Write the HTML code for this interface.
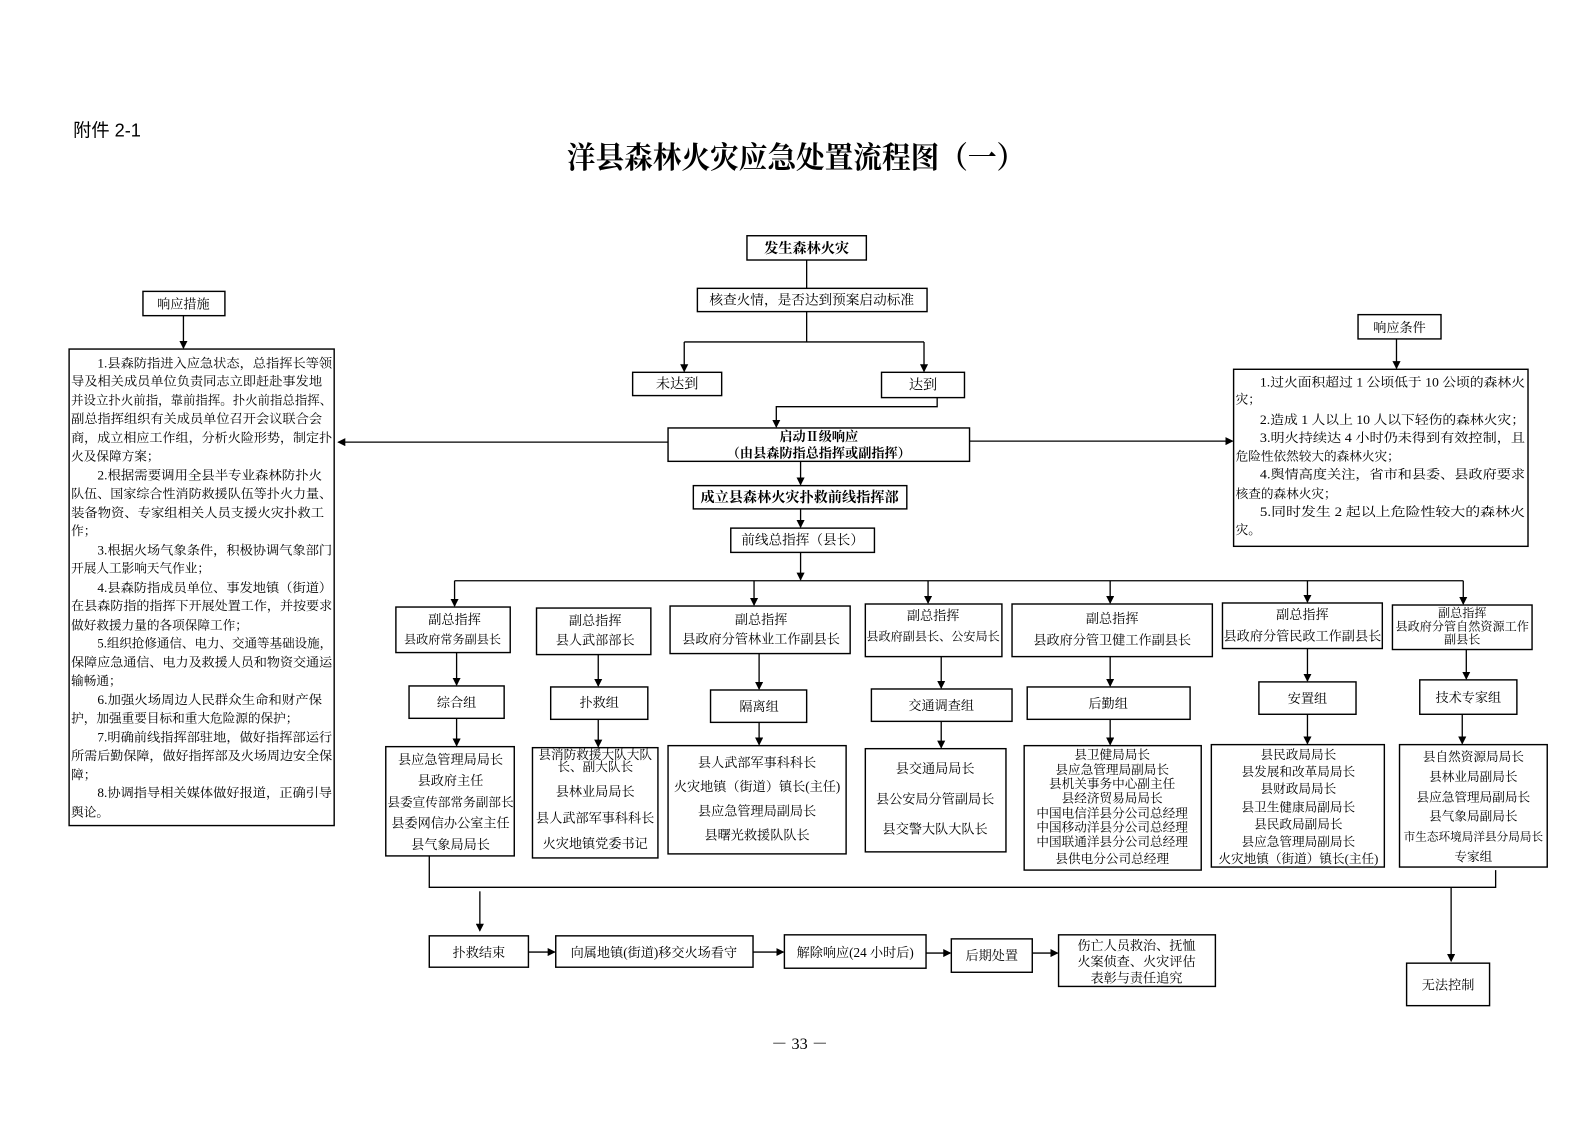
<!DOCTYPE html>
<html><head><meta charset="utf-8"><style>
html,body{margin:0;padding:0;background:#fff;}
svg{display:block;}
text{font-family:"Liberation Serif","Noto Serif CJK SC",serif;fill:#000;}
</style></head><body>
<svg width="1587" height="1122" viewBox="0 0 1568 1109" xmlns="http://www.w3.org/2000/svg">
<defs><marker id="a" markerWidth="8" markerHeight="8" refX="7" refY="4" orient="auto" markerUnits="userSpaceOnUse"><path d="M0,0 L8,4 L0,8 z" fill="#000"/></marker></defs>
<rect width="1568" height="1109" fill="#fff"/>
<text x="72" y="135" font-size="18" style="font-family:'Liberation Sans','Noto Sans CJK SC',sans-serif">附件 2-1</text>
<text x="560" y="166" font-size="30" font-weight="bold" textLength="453" lengthAdjust="spacingAndGlyphs">洋县森林火灾应急处置流程图（一）</text>

<g fill="none" stroke="#000" stroke-width="1.4">
<rect x="738" y="233" width="118" height="24"/>
<rect x="689" y="285" width="227" height="23"/>
<rect x="625" y="368" width="88" height="23"/>
<rect x="871" y="368" width="82" height="25"/>
<rect x="660" y="423" width="298" height="33"/>
<rect x="685" y="480" width="211" height="23"/>
<rect x="722" y="522" width="142" height="24"/>
<rect x="141" y="288" width="81" height="24"/>
<rect x="68" y="345" width="262" height="471"/>
<rect x="1342" y="311" width="82" height="24"/>
<rect x="1219" y="365" width="291" height="175"/>
<rect x="391" y="600" width="113" height="45"/>
<rect x="530" y="601" width="113" height="46"/>
<rect x="662" y="599" width="178" height="47"/>
<rect x="855" y="597" width="135" height="52"/>
<rect x="1000" y="597" width="198" height="52"/>
<rect x="1208" y="596" width="158" height="45"/>
<rect x="1376" y="598" width="138" height="44"/>
<rect x="404" y="678" width="94" height="32"/>
<rect x="544" y="679" width="96" height="32"/>
<rect x="702" y="682" width="95" height="32"/>
<rect x="861" y="681" width="139" height="32"/>
<rect x="1015" y="679" width="161" height="32"/>
<rect x="1244" y="674" width="96" height="32"/>
<rect x="1403" y="672" width="96" height="34"/>
<rect x="381" y="738" width="127" height="108"/>
<rect x="526" y="739" width="124" height="109"/>
<rect x="660" y="737" width="176" height="107"/>
<rect x="855" y="740" width="139" height="102"/>
<rect x="1012" y="737" width="175" height="123"/>
<rect x="1197" y="736" width="171" height="121"/>
<rect x="1383" y="736" width="146" height="121"/>
<rect x="424" y="925" width="98" height="31"/>
<rect x="549" y="925" width="195" height="31"/>
<rect x="775" y="924" width="140" height="33"/>
<rect x="940" y="928" width="80" height="33"/>
<rect x="1046" y="924" width="155" height="51"/>
<rect x="1390" y="952" width="82" height="42"/>
</g>

<g fill="none" stroke="#000" stroke-width="1.3">
<path d="M797 257V285"/>
<path d="M797 308V338M676 338H913"/>
<path d="M676 338V367" marker-end="url(#a)"/>
<path d="M913 338V367" marker-end="url(#a)"/>
<path d="M926 393V402H767V422" marker-end="url(#a)"/>
<path d="M660 437H334" marker-end="url(#a)"/>
<path d="M958 436H1218" marker-end="url(#a)"/>
<path d="M791 456V479" marker-end="url(#a)"/>
<path d="M791 503V521" marker-end="url(#a)"/>
<path d="M791 546V573" marker-end="url(#a)"/>
<path d="M449 574H1446"/>
<path d="M449 574V599" marker-end="url(#a)"/>
<path d="M745 574V598" marker-end="url(#a)"/>
<path d="M917 574V596" marker-end="url(#a)"/>
<path d="M1097 574V596" marker-end="url(#a)"/>
<path d="M1292 574V595" marker-end="url(#a)"/>
<path d="M1446 574V597" marker-end="url(#a)"/>
<path d="M181 312V344" marker-end="url(#a)"/>
<path d="M1380 335V364" marker-end="url(#a)"/>
<path d="M451 645V677" marker-end="url(#a)"/>
<path d="M591 647V678" marker-end="url(#a)"/>
<path d="M750 646V681" marker-end="url(#a)"/>
<path d="M930 649V680" marker-end="url(#a)"/>
<path d="M1097 649V678" marker-end="url(#a)"/>
<path d="M1292 641V673" marker-end="url(#a)"/>
<path d="M1449 642V671" marker-end="url(#a)"/>
<path d="M451 710V737" marker-end="url(#a)"/>
<path d="M591 711V738" marker-end="url(#a)"/>
<path d="M750 714V736" marker-end="url(#a)"/>
<path d="M930 713V739" marker-end="url(#a)"/>
<path d="M1097 711V736" marker-end="url(#a)"/>
<path d="M1292 706V735" marker-end="url(#a)"/>
<path d="M1445 706V735" marker-end="url(#a)"/>
<path d="M424 846V877H1478V860"/>
<path d="M474 881V920" marker-end="url(#a)"/>
<path d="M1434 877V950" marker-end="url(#a)"/>
<path d="M522 941H548" marker-end="url(#a)"/>
<path d="M744 941H774" marker-end="url(#a)"/>
<path d="M915 942H939" marker-end="url(#a)"/>
<path d="M1020 942H1045" marker-end="url(#a)"/>
</g>

<g font-size="14" text-anchor="middle">
<text x="797" y="250" font-weight="bold">发生森林火灾</text>
<text x="802" y="301" font-size="13.5">核查火情，是否达到预案启动标准</text>
<text x="669" y="384">未达到</text>
<text x="912" y="385">达到</text>
<text x="809" y="436" font-size="13" font-weight="bold">启动Ⅱ级响应</text>
<text x="809" y="452" font-size="13" font-weight="bold">（由县森防指总指挥或副指挥）</text>
<text x="790" y="496" font-weight="bold">成立县森林火灾扑救前线指挥部</text>
<text x="793" y="538" font-size="13.5">前线总指挥（县长）</text>
<text x="181" y="305" font-size="13">响应措施</text>
<text x="1383" y="328" font-size="13">响应条件</text>

<g font-size="13">
<text x="449" y="617">副总指挥</text><text x="447" y="636" font-size="12">县政府常务副县长</text>
<text x="588" y="618">副总指挥</text><text x="588" y="637">县人武部部长</text>
<text x="752" y="617">副总指挥</text><text x="752" y="636">县政府分管林业工作副县长</text>
<text x="922" y="613">副总指挥</text><text x="922" y="633" font-size="12">县政府副县长、公安局长</text>
<text x="1099" y="616">副总指挥</text><text x="1099" y="637">县政府分管卫健工作副县长</text>
<text x="1287" y="612">副总指挥</text><text x="1287" y="633">县政府分管民政工作副县长</text>
<text x="1445" y="610" font-size="12">副总指挥</text><text x="1445" y="623" font-size="12">县政府分管自然资源工作</text><text x="1445" y="636" font-size="12">副县长</text>
<text x="451" y="699">综合组</text>
<text x="592" y="699">扑救组</text>
<text x="750" y="703">隔离组</text>
<text x="930" y="702">交通调查组</text>
<text x="1095" y="700">后勤组</text>
<text x="1292" y="695">安置组</text>
<text x="1451" y="694">技术专家组</text>

<text x="445" y="755">县应急管理局局长</text>
<text x="445" y="776">县政府主任</text>
<text x="445" y="797" font-size="12.5">县委宣传部常务副部长</text>
<text x="445" y="818">县委网信办公室主任</text>
<text x="445" y="839">县气象局局长</text>

<text x="588" y="750" font-size="12.5">县消防救援大队大队</text>
<text x="588" y="762" font-size="12.5">长、副大队长</text>
<text x="588" y="787">县林业局局长</text>
<text x="588" y="813">县人武部军事科科长</text>
<text x="588" y="838">火灾地镇党委书记</text>

<text x="748" y="758">县人武部军事科科长</text>
<text x="748" y="782">火灾地镇（街道）镇长(主任)</text>
<text x="748" y="806">县应急管理局副局长</text>
<text x="748" y="830">县曙光救援队队长</text>

<text x="924" y="764">县交通局局长</text>
<text x="924" y="794">县公安局分管副局长</text>
<text x="924" y="824">县交警大队大队长</text>

<g font-size="12.5">
<text x="1099" y="750">县卫健局局长</text>
<text x="1099" y="765">县应急管理局副局长</text>
<text x="1099" y="779">县机关事务中心副主任</text>
<text x="1099" y="793">县经济贸易局局长</text>
<text x="1099" y="808">中国电信洋县分公司总经理</text>
<text x="1099" y="822">中国移动洋县分公司总经理</text>
<text x="1099" y="836">中国联通洋县分公司总经理</text>
<text x="1099" y="853">县供电分公司总经理</text>

<text x="1283" y="750">县民政局局长</text>
<text x="1283" y="767">县发展和改革局局长</text>
<text x="1283" y="784">县财政局局长</text>
<text x="1283" y="802">县卫生健康局副局长</text>
<text x="1283" y="819">县民政局副局长</text>
<text x="1283" y="836">县应急管理局副局长</text>
<text x="1283" y="853">火灾地镇（街道）镇长(主任)</text>

<text x="1456" y="752">县自然资源局局长</text>
<text x="1456" y="772">县林业局副局长</text>
<text x="1456" y="792">县应急管理局副局长</text>
<text x="1456" y="811">县气象局副局长</text>
<text x="1456" y="831" font-size="11.5">市生态环境局洋县分局局长</text>
<text x="1456" y="851">专家组</text>
</g>

<text x="473" y="946">扑救结束</text>
<text x="646" y="946">向属地镇(街道)移交火场看守</text>
<text x="845" y="946">解除响应(24 小时后)</text>
<text x="980" y="949">后期处置</text>
<text x="1123" y="939">伤亡人员救治、抚恤</text>
<text x="1123" y="955">火案侦查、火灾评估</text>
<text x="1123" y="971">表彰与责任追究</text>
<text x="1431" y="978">无法控制</text>
</g>
<text x="790" y="1037" font-size="16">－ 33 －</text>
</g>

<g font-size="12.5">
<text x="96" y="363" textLength="232" lengthAdjust="spacingAndGlyphs">1.县森防指进入应急状态，总指挥长等领</text>
<text x="70" y="381" textLength="248" lengthAdjust="spacingAndGlyphs">导及相关成员单位负责同志立即赶赴事发地</text>
<text x="70" y="400" textLength="258" lengthAdjust="spacingAndGlyphs">并设立扑火前指，靠前指挥。扑火前指总指挥、</text>
<text x="70" y="418" textLength="248" lengthAdjust="spacingAndGlyphs">副总指挥组织有关成员单位召开会议联合会</text>
<text x="70" y="437" textLength="258" lengthAdjust="spacingAndGlyphs">商，成立相应工作组，分析火险形势，制定扑</text>
<text x="70" y="455">火及保障方案；</text>
<text x="96" y="474" textLength="222" lengthAdjust="spacingAndGlyphs">2.根据需要调用全县半专业森林防扑火</text>
<text x="70" y="492" textLength="258" lengthAdjust="spacingAndGlyphs">队伍、国家综合性消防救援队伍等扑火力量、</text>
<text x="70" y="511" textLength="250" lengthAdjust="spacingAndGlyphs">装备物资、专家组相关人员支援火灾扑救工</text>
<text x="70" y="529">作；</text>
<text x="96" y="548" textLength="232" lengthAdjust="spacingAndGlyphs">3.根据火场气象条件，积极协调气象部门</text>
<text x="70" y="566">开展人工影响天气作业；</text>
<text x="96" y="585" textLength="232" lengthAdjust="spacingAndGlyphs">4.县森防指成员单位、事发地镇（街道）</text>
<text x="70" y="603" textLength="258" lengthAdjust="spacingAndGlyphs">在县森防指的指挥下开展处置工作，并按要求</text>
<text x="70" y="622">做好救援力量的各项保障工作；</text>
<text x="96" y="640" textLength="232" lengthAdjust="spacingAndGlyphs">5.组织抢修通信、电力、交通等基础设施，</text>
<text x="70" y="659" textLength="258" lengthAdjust="spacingAndGlyphs">保障应急通信、电力及救援人员和物资交通运</text>
<text x="70" y="677">输畅通；</text>
<text x="96" y="696" textLength="222" lengthAdjust="spacingAndGlyphs">6.加强火场周边人民群众生命和财产保</text>
<text x="70" y="714">护，加强重要目标和重大危险源的保护；</text>
<text x="96" y="733" textLength="232" lengthAdjust="spacingAndGlyphs">7.明确前线指挥部驻地，做好指挥部运行</text>
<text x="70" y="751" textLength="258" lengthAdjust="spacingAndGlyphs">所需后勤保障，做好指挥部及火场周边安全保</text>
<text x="70" y="770">障；</text>
<text x="96" y="788" textLength="232" lengthAdjust="spacingAndGlyphs">8.协调指导相关媒体做好报道，正确引导</text>
<text x="70" y="807">舆论。</text>

<text x="1245" y="382" textLength="262" lengthAdjust="spacingAndGlyphs">1.过火面积超过 1 公顷低于 10 公顷的森林火</text>
<text x="1221" y="399">灾；</text>
<text x="1245" y="419" textLength="262" lengthAdjust="spacingAndGlyphs">2.造成 1 人以上 10 人以下轻伤的森林火灾；</text>
<text x="1245" y="437" textLength="262" lengthAdjust="spacingAndGlyphs">3.明火持续达 4 小时仍未得到有效控制，且</text>
<text x="1221" y="455">危险性依然较大的森林火灾；</text>
<text x="1245" y="473" textLength="262" lengthAdjust="spacingAndGlyphs">4.舆情高度关注，省市和县委、县政府要求</text>
<text x="1221" y="492">核查的森林火灾；</text>
<text x="1245" y="510" textLength="262" lengthAdjust="spacingAndGlyphs">5.同时发生 2 起以上危险性较大的森林火</text>
<text x="1221" y="528">灾。</text>
</g>
</svg>
</body></html>
